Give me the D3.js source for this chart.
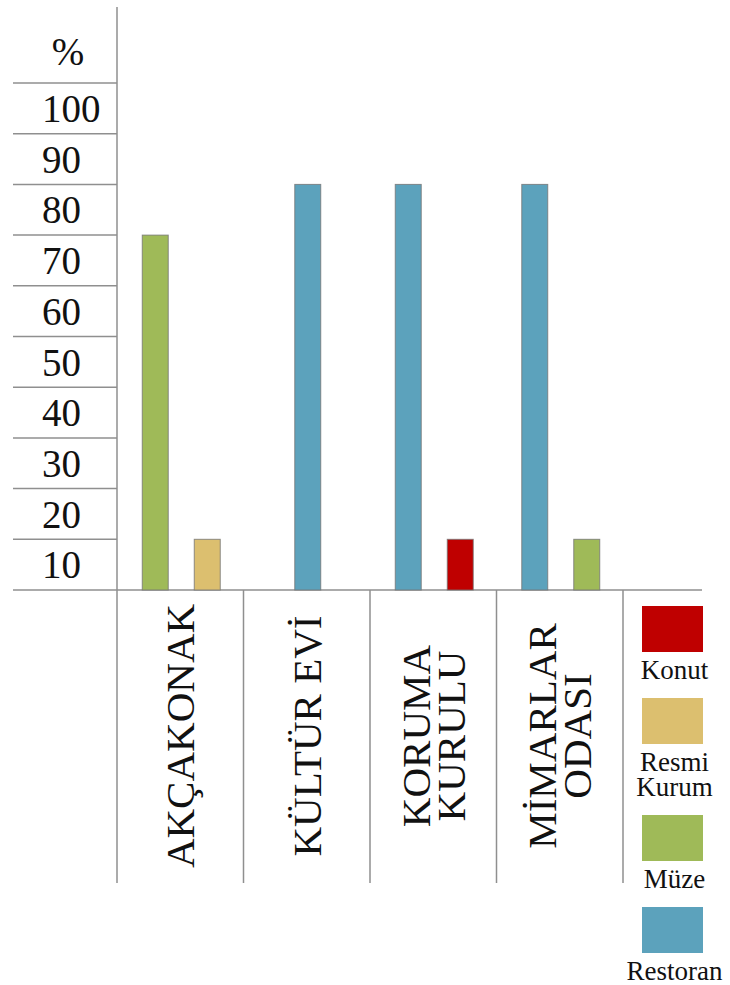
<!DOCTYPE html>
<html>
<head>
<meta charset="utf-8">
<script src="https://cdn.jsdelivr.net/npm/d3@7"></script>
<style>
  body { margin: 0; background: #fff; }
</style>
</head>
<body>
<svg id="chart" width="730" height="985" font-family="Liberation Serif"></svg>
<script>
// data
const categories = ["AKÇAKONAK", "KÜLTÜR EVİ", "KORUMA KURULU", "MİMARLAR ODASI"];
const categoryLines = [["AKÇAKONAK"], ["KÜLTÜR EVİ"], ["KORUMA", "KURULU"], ["MİMARLAR", "ODASI"]];
const seriesNames = ["Konut", "Resmi Kurum", "Müze", "Restoran"];
const legendLines = [["Konut"], ["Resmi", "Kurum"], ["Müze"], ["Restoran"]];
const seriesColors = ["#bf0000", "#dcbf6f", "#9fba58", "#5ca2bc"];
const konut = [0, 0, 10, 0];
const resmiKurum = [10, 0, 0, 0];
const muze = [70, 0, 0, 10];
const restoran = [0, 80, 80, 80];
const yTicks = [10, 20, 30, 40, 50, 60, 70, 80, 90, 100];

const seriesValues = [konut, resmiKurum, muze, restoran];

const svg = d3.select('#chart');
const lineColor = '#8f8f8f';
const serif = 'Liberation Serif';

const axisX = 117, tableLeft = 13, baseRight = 702, colBottom = 883;

const y = d3.scaleLinear().domain([0, 100]).range([590, 83]);
const x0 = d3.scaleBand().domain(categories).range([axisX, 623]);

// left table lines
const gridVals = [0].concat(yTicks);
svg.selectAll('line.grid')
    .data(gridVals).enter()
    .append('line')
    .attr('class', 'grid')
    .attr('x1', tableLeft)
    .attr('x2', d => d === 0 ? baseRight : axisX)
    .attr('y1', d => y(d)).attr('y2', d => y(d))
    .style('stroke', lineColor).style('stroke-width', 1.5);

// vertical axis + column separators
svg.append('line')
    .attr('x1', axisX).attr('x2', axisX)
    .attr('y1', 7).attr('y2', colBottom)
    .style('stroke', lineColor).style('stroke-width', 1.5);

svg.selectAll('line.sep')
    .data(categories).enter()
    .append('line')
    .attr('class', 'sep')
    .attr('x1', d => x0(d) + x0.bandwidth()).attr('x2', d => x0(d) + x0.bandwidth())
    .attr('y1', y(0)).attr('y2', colBottom)
    .style('stroke', lineColor).style('stroke-width', 1.5);

// tick labels sit inside the band below each line
svg.selectAll('text.tick')
    .data(yTicks).enter()
    .append('text')
    .attr('class', 'tick')
    .attr('x', 42)
    .attr('y', d => (y(d) + y(d - 10)) / 2)
    .attr('dy', '0.35em')
    .attr('font-family', serif)
    .attr('font-size', 39)
    .attr('fill', '#111')
    .text(d => d);

svg.append('text')
    .attr('x', 68)
    .attr('y', (y(100) + y(110)) / 2 - 6)
    .attr('dy', '0.35em')
    .attr('text-anchor', 'middle')
    .attr('font-family', serif)
    .attr('font-size', 39)
    .attr('fill', '#111')
    .text('%');

// bars: only non-zero series, drawn in reverse legend order
const groups = categories.map((c, ci) => {
    const bars = [];
    for (let s = seriesNames.length - 1; s >= 0; s--) {
        const v = seriesValues[s][ci];
        if (v > 0) bars.push({ cat: c, series: s, value: v });
    }
    return bars;
});

const slot = 52;
groups.forEach(bars => {
    if (bars.length == 0) return;
    const cx = x0(bars[0].cat) + x0.bandwidth() / 2 + 1;
    const x1 = d3.scaleBand()
        .domain(d3.range(bars.length))
        .range([cx - bars.length * slot / 2, cx + bars.length * slot / 2])
        .paddingInner(0.5).paddingOuter(0.25);

    svg.selectAll(null)
        .data(bars).enter()
        .append('rect')
        .attr('x', (d, i) => x1(i))
        .attr('width', x1.bandwidth())
        .attr('y', d => y(d.value))
        .attr('height', d => y(0) - y(d.value))
        .style('fill', d => seriesColors[d.series])
        .style('stroke', '#747474')
        .style('stroke-opacity', 0.8)
        .style('stroke-width', 1);
});

// rotated category labels
const catFont = 41, catLine = 35;
categories.forEach((c, ci) => {
    const lines = categoryLines[ci];
    const cx = x0(c) + x0.bandwidth() / 2;
    lines.forEach((txt, li) => {
        const bx = cx + (li - (lines.length - 1) / 2) * catLine + 14;
        svg.append('text')
            .attr('transform', `translate(${bx},736) rotate(-90)`)
            .attr('text-anchor', 'middle')
            .attr('font-family', serif)
            .attr('font-size', catFont)
            .attr('fill', '#111')
            .text(txt);
    });
});

// legend in the last column
const legendX = 642, swW = 61, swH = 46, legLine = 25;
let ly = 606;
seriesNames.forEach((name, i) => {
    svg.append('rect')
        .attr('x', legendX).attr('y', ly)
        .attr('width', swW).attr('height', swH)
        .style('fill', seriesColors[i]);
    let by = ly + swH + 27;
    legendLines[i].forEach((t, li) => {
        svg.append('text')
            .attr('x', legendX + swW / 2 + 2)
            .attr('y', by + li * legLine)
            .attr('text-anchor', 'middle')
            .attr('font-family', serif)
            .attr('font-size', 27)
            .attr('fill', '#111')
            .text(t);
    });
    ly = by + (legendLines[i].length - 1) * legLine + 19;
});
</script>
</body>
</html>
